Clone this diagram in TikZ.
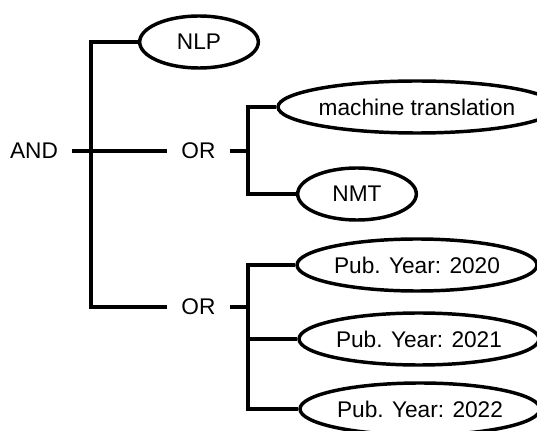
\documentclass[tikz,border=0pt]{standalone}
\usepackage{fontspec}
\setmainfont{Liberation Sans}
\usetikzlibrary{shapes.geometric}
\begin{document}
\begin{tikzpicture}[x=0.75pt,y=-0.75pt,
  line width=2.8pt,
  every node/.style={font=\fontsize{17}{20}\selectfont},
  op/.style={inner xsep=9.5pt,inner ysep=2pt},
  term/.style={draw,ellipse,line width=2.6pt,inner sep=0pt,minimum height=39pt},
  small/.style={term,minimum width=89pt},
  wide/.style={term,minimum width=180pt}]
\useasboundingbox (0,0) rectangle (537,431);

% operators
\node[op] (and) at (34,151) {AND};
\node[op] (or1) at (198.5,151) {OR};
\node[op] (or2) at (198.5,307) {OR};

% terms
\node[small] (nlp) at (199,42) {NLP};
\node[wide]  (mt)  at (417,107) {machine translation};
\node[small] (nmt) at (357,194) {NMT};
\node[wide]  (y20) at (417,265) {Pub. Year: 2020};
\node[wide]  (y21) at (419,339) {Pub. Year: 2021};
\node[wide]  (y22) at (420,409) {Pub. Year: 2022};

% branch points
\coordinate (a2) at (91,307);
\coordinate (o1) at (248,151);
\coordinate (o2) at (248,307);

% AND group
\draw (and) -- (or1);
\draw (nlp) -| (a2) -- (or2);

% first OR group
\draw (or1) -- (o1);
\draw (mt) -| (o1) |- (nmt);

% second OR group
\draw (or2) -- (o2);
\draw (y20) -| (o2) |- (y22);
\draw (y21) -- (y21 -| o2);
\end{tikzpicture}
\end{document}
